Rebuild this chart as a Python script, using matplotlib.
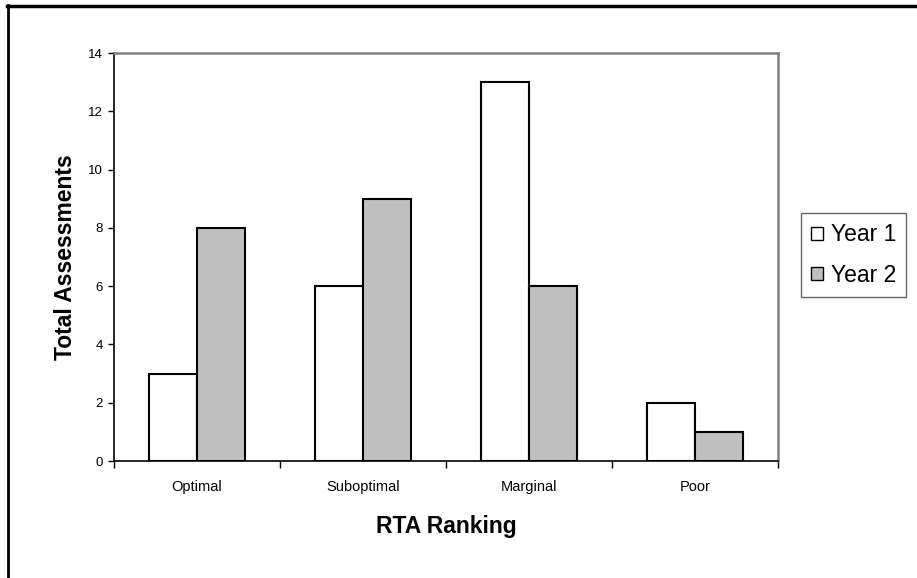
import numpy as np
import matplotlib
matplotlib.use("Agg")
import matplotlib.pyplot as plt
from matplotlib.patches import Patch

categories = ["Optimal", "Suboptimal", "Marginal", "Poor"]
year1 = [3, 6, 13, 2]
year2 = [8, 9, 6, 1]
yticks = [0, 2, 4, 6, 8, 10, 12, 14]

plt.rcParams['font.family'] = ['Liberation Sans', 'DejaVu Sans']

fig = plt.figure(figsize=(9.17, 5.78), dpi=100)
ax = fig.add_axes([114 / 917, 117 / 578, 664 / 917, 408 / 578])

x = np.arange(len(categories))
w = 0.29
ax.bar(x - w / 2, year1, width=w, color='white', edgecolor='black', linewidth=1.5, zorder=3)
ax.bar(x + w / 2, year2, width=w, color='#c0c0c0', edgecolor='black', linewidth=1.5, zorder=3)

ax.set_xlim(-0.5, len(categories) - 0.5)
ax.set_ylim(0, 14)
ax.set_yticks(yticks)
ax.set_yticklabels([str(v) for v in yticks], fontsize=9.5)
ax.set_xticks(np.arange(len(categories) + 1) - 0.5)
ax.set_xticklabels([])
ax.set_xticks(x, minor=True)
ax.set_xticklabels(categories, minor=True, fontsize=10.5)
ax.tick_params(axis='x', which='minor', length=0, pad=14)
ax.tick_params(axis='x', which='major', length=5, direction='out', width=1)
ax.tick_params(axis='y', length=4, direction='out', width=1, pad=4)

for s in ['left', 'bottom']:
    ax.spines[s].set_color('black')
    ax.spines[s].set_linewidth(1.2)
for s in ['top', 'right']:
    ax.spines[s].set_color('#808080')
    ax.spines[s].set_linewidth(1.8)

ax.set_ylabel('Total Assessments', fontsize=16.5, fontweight='bold', labelpad=8)
ax.set_xlabel('RTA Ranking', fontsize=16.5, fontweight='bold', labelpad=15)

handles = [Patch(facecolor='white', edgecolor='black', label='Year 1'),
           Patch(facecolor='#c0c0c0', edgecolor='black', label='Year 2')]
fig.legend(handles=handles, loc='upper left', bbox_to_anchor=(801 / 917, 1 - 213 / 578),
           fontsize=16.5, frameon=True, fancybox=False, edgecolor='#404040',
           handlelength=0.5, handleheight=0.5, handletextpad=0.35,
           borderpad=0.45, labelspacing=0.75, borderaxespad=0)

# page frame lines (left and top only)
fig.add_artist(plt.Line2D([8 / 917, 8 / 917], [0, 1 - 5 / 578], color='black', linewidth=2,
                          transform=fig.transFigure))
fig.add_artist(plt.Line2D([7 / 917, 1], [1 - 6 / 578, 1 - 6 / 578], color='black', linewidth=2.5,
                          transform=fig.transFigure))

fig.savefig('out.png', dpi=100)
